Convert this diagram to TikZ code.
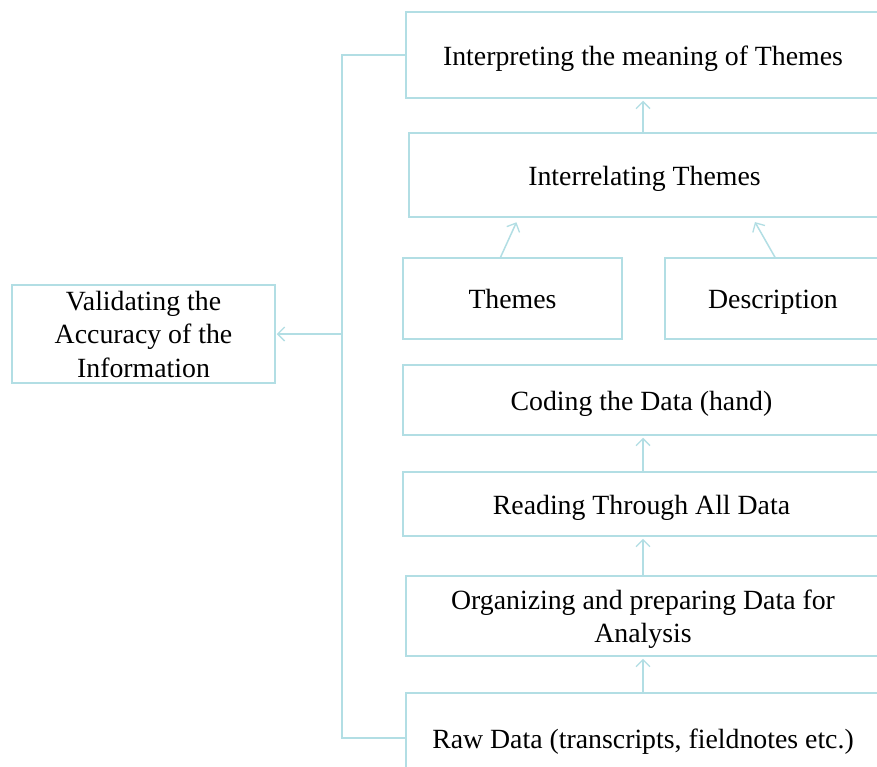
\documentclass[tikz,border=0pt]{standalone}
\usepackage{fontspec}
\setmainfont{Liberation Serif}
\usetikzlibrary{arrows.meta}
\definecolor{edge}{RGB}{178,222,228}
\tikzset{
  box/.style={draw=edge, line width=1.5pt, fill=white, align=center, inner sep=0pt,
    font=\fontsize{27.8}{33.5}\selectfont, text=black},
  oneline/.style={box, text height=22pt, text depth=2pt},
  arr/.style={draw=edge, line width=1.5pt, -{Straight Barb[length=7pt,width=14pt,line width=1.3pt]}},
  link/.style={draw=edge, line width=1.5pt}
}
\begin{document}
\begin{tikzpicture}[x=1pt,y=-1pt]
\useasboundingbox (0,0) rectangle (877,766);
\clip (0,0) rectangle (877,766);
\fill[white] (0,0) rectangle (877,766);

\node[oneline, minimum width=474, minimum height=86] (interp) at (643,55) {Interpreting the meaning of Themes};
\node[oneline, minimum width=471, minimum height=84] (interrel) at (644.5,175) {Interrelating Themes};
\node[oneline, minimum width=219, minimum height=81] (themes) at (512.5,298.5) {Themes};
\node[oneline, minimum width=216, minimum height=81] (desc) at (773,298.5) {Description};
\node[box, minimum width=263, minimum height=98] (valid) at (143.5,334) {Validating the\\Accuracy of the\\Information};
\node[oneline, minimum width=477, minimum height=70] (coding) at (641.5,400) {Coding the Data (hand)};
\node[oneline, minimum width=477, minimum height=64] (reading) at (641.5,504) {Reading Through All Data};
\node[box, text depth=0pt, minimum width=474, minimum height=80] (organ) at (643,616) {Organizing and preparing Data for\\Analysis};
\node[oneline, minimum width=474, minimum height=90] (raw) at (643,738) {Raw Data (transcripts, fieldnotes etc.)};

% upward flow
\draw[arr, shorten >=2pt] (raw.north) -- (organ.south);
\draw[arr, shorten >=2pt] (organ.north) -- (organ.north |- reading.south);
\draw[arr, shorten >=2pt] (organ.north |- reading.north) -- (organ.north |- coding.south);
\draw[arr, shorten >=2pt] (interrel.north -| interp.south) -- (interp.south);
\draw[arr, shorten >=5pt] ([xshift=-12pt]themes.north) -- ([xshift=-126pt]interrel.south);
\draw[arr, shorten >=5pt] ([xshift=2pt]desc.north) -- ([xshift=108pt]interrel.south);

% validation loop
\coordinate (bus) at (342,334);
\draw[link] (interp.west) -| (bus) |- (raw.west);
\draw[arr, shorten >=1pt] (bus) -- (valid.east);
\end{tikzpicture}
\end{document}
